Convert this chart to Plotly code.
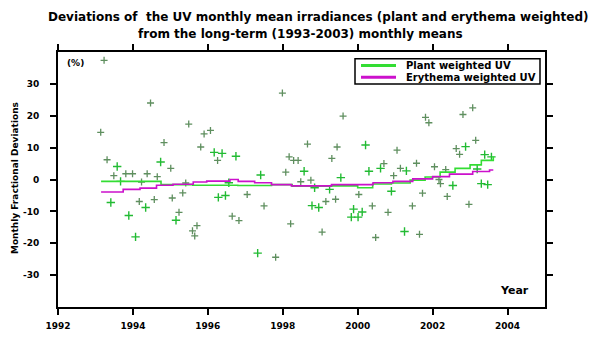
import plotly.graph_objects as go

# Scatter points (bright "+" markers)
bright_years = [1993.41, 1993.58, 1993.67, 1993.89, 1994.07, 1994.34, 1994.74, 1995.15,
                1996.17, 1996.28, 1996.38, 1996.47, 1996.56, 1996.75, 1997.33, 1997.41,
                1998.57, 1998.78, 1998.85, 1998.96, 1999.25, 1999.55, 1999.83, 1999.89,
                2000.01, 2000.12, 2000.21, 2000.30, 2000.61, 2000.90, 2001.25, 2001.30,
                2002.54, 2002.88, 2003.19, 2003.30, 2003.39, 2003.47, 2003.57]
bright_vals = [-7.2, 4.1, -0.6, -11.3, -18.0, -8.8, 5.5, -12.8,
               8.5, -5.6, 8.2, -5.0, -1.0, 7.3, -23.1, 1.4,
               2.6, -8.2, -2.6, -8.8, -3.1, 0.6, -11.8, -9.3,
               -11.8, -10.2, 10.8, 2.6, 3.5, -3.7, -16.3, 2.7,
               -1.9, 10.3, 3.3, -1.3, 7.8, -1.6, 7.1]

# Scatter points (dim markers)
dim_years = [1993.14, 1993.23, 1993.31, 1993.49, 1993.81, 1993.99, 1994.17, 1994.23,
             1994.38, 1994.47, 1994.57, 1994.65, 1994.83, 1995.01, 1995.05, 1995.23,
             1995.33, 1995.41, 1995.49, 1995.59, 1995.65, 1995.71, 1995.81, 1995.90,
             1996.07, 1996.26, 1996.65, 1996.83, 1997.05, 1997.50, 1997.81, 1997.99,
             1998.08, 1998.17, 1998.21, 1998.29, 1998.41, 1998.48, 1998.66, 1998.75,
             1999.05, 1999.15, 1999.31, 1999.41, 1999.45, 1999.61, 2000.03, 2000.39,
             2000.48, 2000.70, 2000.81, 2000.96, 2001.05, 2001.14, 2001.46, 2001.57,
             2001.65, 2001.73, 2001.81, 2001.90, 2002.05, 2002.17, 2002.21, 2002.35,
             2002.39, 2002.63, 2002.72, 2002.81, 2002.97, 2003.07, 2003.15]
dim_vals = [14.8, 37.4, 6.2, 1.2, 1.8, 1.8, -6.9, -0.8,
            1.8, 24.0, -6.3, 0.9, 11.6, 3.5, -5.8, -10.3,
            -4.2, -1.1, 17.4, -16.1, -17.7, -14.5, 10.2, 14.3,
            15.4, 6.0, -11.5, -12.9, -4.7, -8.3, -24.4, 27.1,
            2.3, 7.1, -13.9, 6.0, 6.0, -0.7, 11.1, -0.2,
            -16.5, -6.9, 6.6, -6.2, 10.2, 19.9, -4.7, -8.3,
            -18.2, 5.0, -10.3, 1.2, 9.2, 3.5, -8.3, 5.1,
            -17.2, -4.3, 19.5, 17.8, 4.0, 0.0, -1.3, 3.1,
            -5.3, 9.7, 7.9, 20.4, -7.8, 22.5, 12.3]

# Step trend lines
plant_years = [1993.15, 1994.75, 1995.6, 1996.8, 1997.7, 1998.25, 1999.3, 2000.0, 2000.4,
               2000.9, 2001.4, 2001.8, 2002.2, 2002.6, 2003.0, 2003.3, 2003.62]
plant_vals = [-0.6, -1.6, -1.8, -1.9, -1.6, -2.1, -2.0, -2.6, -1.4,
              -1.1, -0.2, 0.8, 2.3, 3.5, 4.6, 6.0, 7.2]
ery_years = [1993.15, 1993.74, 1994.19, 1994.63, 1995.07, 1995.61, 1995.97, 1996.59, 1996.81,
             1997.25, 1997.7, 1998.23, 1999.3, 2000.41, 2000.94, 2001.47, 2002.0, 2002.45,
             2003.07, 2003.52, 2003.62]
ery_vals = [-3.9, -3.1, -2.7, -1.8, -1.5, -0.8, -0.5, 0.0, -0.6,
            -1.0, -1.6, -2.0, -1.6, -1.0, -0.6, 0.2, 0.9, 1.7,
            2.5, 3.0, 3.0]

series_names = ["Plant weighted UV", "Erythema weighted UV"]
series_colors = ["#33dd33", "#cc11cc"]

x_ticks = [1992, 1994, 1996, 1998, 2000, 2002, 2004]
y_ticks = [-30, -20, -10, 0, 10, 20, 30]

FONT = "DejaVu Sans"

# plot-area geometry in pixels (for placing text / legend in paper coords)
L, R, T, B = 58, 545, 52, 315
W, H = R - L, B - T


def px(x):
    return (x - L) / W


def py(y):
    return (B - y) / H


fig = go.Figure()
fig.add_trace(go.Scatter(x=dim_years, y=dim_vals, mode="markers", showlegend=False,
                         marker=dict(symbol="cross-thin", size=5,
                                     line=dict(color="#5f8f5f", width=1.3))))
fig.add_trace(go.Scatter(x=bright_years, y=bright_vals, mode="markers", showlegend=False,
                         marker=dict(symbol="cross-thin", size=6,
                                     line=dict(color="#22bb33", width=1.4))))
fig.add_trace(go.Scatter(x=plant_years, y=plant_vals, mode="lines", line_shape="hv",
                         name=series_names[0], showlegend=False,
                         line=dict(color=series_colors[0], width=1.6)))
fig.add_trace(go.Scatter(x=ery_years, y=ery_vals, mode="lines", line_shape="hv",
                         name=series_names[1], showlegend=False,
                         line=dict(color=series_colors[1], width=1.6)))

axis_common = dict(showline=True, linecolor="black", linewidth=2, mirror="allticks",
                   ticks="outside", ticklen=6, tickwidth=2, tickcolor="black",
                   showgrid=False, zeroline=False,
                   tickfont=dict(family=FONT, size=9, color="black", weight="bold"))

fig.update_xaxes(range=[1992, 2005], tickvals=x_ticks, ticktext=[str(v) for v in x_ticks],
                 ticklabelstandoff=3, **axis_common)
fig.update_yaxes(range=[-40, 40], tickvals=y_ticks, ticktext=[str(v) for v in y_ticks],
                 ticklabelstandoff=9, **axis_common)

# custom legend box (compact, like the original)
shapes = [dict(type="rect", xref="paper", yref="paper",
               x0=px(355), x1=px(540), y0=py(59), y1=py(85),
               line=dict(color="black", width=1.5), fillcolor="white", layer="above")]
annotations = []
for i, (name, col) in enumerate(zip(series_names, series_colors)):
    yy = 66 + i * 12
    shapes.append(dict(type="line", xref="paper", yref="paper",
                       x0=px(361), x1=px(396), y0=py(yy), y1=py(yy),
                       line=dict(color=col, width=3), layer="above"))
    annotations.append(dict(text=f"<b>{name}</b>", xref="paper", yref="paper",
                            x=px(404), y=py(yy), xanchor="left", yanchor="middle",
                            showarrow=False,
                            font=dict(family=FONT, size=10, color="black")))

annotations += [
    dict(text="<b>Deviations of  the UV monthly mean irradiances (plant and erythema weighted)</b>",
         xref="paper", yref="paper", x=px(318), y=py(16),
         xanchor="center", yanchor="middle",
         showarrow=False, font=dict(family=FONT, size=12, color="black")),
    dict(text="<b>from the long-term (1993-2003) monthly means</b>",
         xref="paper", yref="paper", x=px(136), y=py(33), xanchor="left",
         yanchor="middle", showarrow=False, font=dict(family=FONT, size=12, color="black")),
    dict(text="<b>Monthly Fractional Deviations</b>", textangle=-90,
         xref="paper", yref="paper", x=px(15), y=py(182),
         xanchor="center", yanchor="middle", showarrow=False,
         font=dict(family=FONT, size=9, color="black")),
    dict(text="<b>(%)</b>", xref="paper", yref="paper", x=px(75),
         y=py(63), xanchor="center", yanchor="middle", showarrow=False,
         font=dict(family=FONT, size=9, color="black")),
    dict(text="<b>Year</b>", xref="paper", yref="paper", x=px(514),
         y=py(298), xanchor="center", yanchor="middle", showarrow=False,
         font=dict(family=FONT, size=11, color="black")),
]

fig.update_layout(
    width=600, height=343,
    margin=dict(l=L, r=600 - R, t=T, b=343 - B),
    paper_bgcolor="white", plot_bgcolor="white",
    font=dict(family=FONT, color="black"),
    showlegend=False,
    shapes=shapes,
    annotations=annotations,
)

fig.write_html("out.html", post_script="document.body.style.margin='0';",
               config={"displayModeBar": False})
